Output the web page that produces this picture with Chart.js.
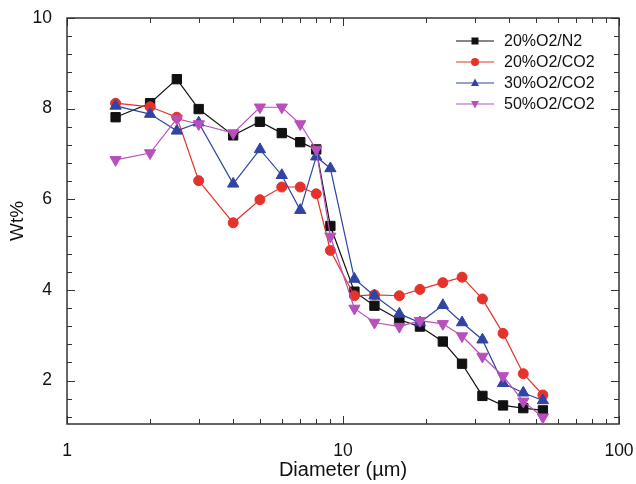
<!DOCTYPE html>
<html>
<head>
<meta charset="utf-8">
<script src="https://cdn.jsdelivr.net/npm/chart.js@4/dist/chart.umd.min.js"></script>
<style>
  html, body { margin: 0; padding: 0; background: #fff; }
  #wrap { width: 636px; height: 484px; position: relative; }
</style>
</head>
<body>
<div id="wrap"><canvas id="chart"></canvas></div>
<script>
// particle diameter (um) for each size bin
const diameters = [1.5, 2, 2.5, 3, 4, 5, 6, 7, 8, 9, 11, 13, 16, 19, 23, 27, 32, 38, 45, 53];

const o2n2_20  = [7.81, 8.12, 8.65, 7.99, 7.41, 7.71, 7.46, 7.26, 7.10, 5.41, 3.96, 3.65, 3.34, 3.19, 2.86, 2.37, 1.66, 1.45, 1.39, 1.34];
const o2co2_20 = [8.12, 8.04, 7.81, 6.41, 5.48, 5.99, 6.27, 6.27, 6.12, 4.87, 3.87, 3.89, 3.87, 4.01, 4.16, 4.28, 3.80, 3.04, 2.15, 1.68];
const o2co2_30 = [8.06, 7.88, 7.51, 7.69, 6.34, 7.10, 6.53, 5.76, 6.94, 6.68, 4.24, 3.87, 3.47, 3.28, 3.66, 3.28, 2.90, 1.94, 1.73, 1.56];
const o2co2_50 = [6.87, 7.02, 7.78, 7.66, 7.46, 8.03, 8.03, 7.66, 7.10, 5.18, 3.59, 3.28, 3.19, 3.32, 3.25, 2.98, 2.53, 2.10, 1.54, 1.19];

const seriesLabels = ["20%O2/N2", "20%O2/CO2", "30%O2/CO2", "50%O2/CO2"];

const xTickValues = [1, 10, 100];
const xMinorValues = [2, 3, 4, 5, 6, 7, 8, 9, 20, 30, 40, 50, 60, 70, 80, 90];
const yTickValues = [2, 4, 6, 8, 10];
const yMinorValues = [1.2, 1.6, 2.4, 2.8, 3.2, 3.6, 4.4, 4.8, 5.2, 5.6, 6.4, 6.8, 7.2, 7.6, 8.4, 8.8, 9.2, 9.6];

const FONT = "Arial, 'Liberation Sans', Helvetica, sans-serif";

function toPoints(values) {
  return values.map((v, i) => ({ x: diameters[i], y: v }));
}

function makeSet(label, values, color, style, radius, rotation, order) {
  return {
    label,
    data: toPoints(values),
    borderColor: color,
    backgroundColor: color,
    borderWidth: 1.2,
    pointStyle: style,
    pointRadius: radius,
    pointRotation: rotation,
    pointBorderWidth: 1,
    pointBorderColor: color,
    pointBackgroundColor: color,
    tension: 0,
    order
  };
}

function marker(ctx, style, x, y, r, rot) {
  ctx.beginPath();
  if (style === "rect") {
    ctx.rect(x - r, y - r, 2 * r, 2 * r);
  } else if (style === "circle") {
    ctx.arc(x, y, r, 0, Math.PI * 2);
  } else {
    const s = rot ? -1 : 1;
    ctx.moveTo(x, y - s * r * 1.1);
    ctx.lineTo(x + r, y + s * r * 0.75);
    ctx.lineTo(x - r, y + s * r * 0.75);
    ctx.closePath();
  }
  ctx.fill();
}

const frameTicks = {
  id: "frameTicks",
  beforeDatasetsDraw(chart) {
    const { ctx, chartArea: a, scales: { x, y } } = chart;
    ctx.save();
    ctx.strokeStyle = "#333";
    ctx.lineWidth = 1;
    ctx.beginPath();
    const tick = (v, len, scale) => {
      if (scale === x) {
        const px = Math.round(x.getPixelForValue(v)) + 0.5;
        ctx.moveTo(px, a.bottom); ctx.lineTo(px, a.bottom - len);
        ctx.moveTo(px, a.top); ctx.lineTo(px, a.top + len);
      } else {
        const py = Math.round(y.getPixelForValue(v)) + 0.5;
        ctx.moveTo(a.left, py); ctx.lineTo(a.left + len, py);
        ctx.moveTo(a.right, py); ctx.lineTo(a.right - len, py);
      }
    };
    xTickValues.forEach(v => tick(v, 8, x));
    xMinorValues.forEach(v => tick(v, 5, x));
    yTickValues.forEach(v => tick(v, 8, y));
    yMinorValues.forEach(v => tick(v, 5, y));
    ctx.stroke();
    ctx.lineWidth = 1.5;
    ctx.strokeStyle = "#333";
    ctx.strokeRect(a.left, a.top, a.right - a.left, a.bottom - a.top);
    ctx.restore();
  }
};

const boxLegend = {
  id: "boxLegend",
  afterDraw(chart) {
    const { ctx } = chart;
    ctx.save();
    ctx.font = "16px " + FONT;
    ctx.textBaseline = "middle";
    ctx.textAlign = "left";
    chart.data.datasets.forEach((ds, i) => {
      const yy = 41 + i * 21;
      ctx.strokeStyle = ds.borderColor;
      ctx.fillStyle = ds.borderColor;
      ctx.lineWidth = 1.2;
      ctx.beginPath();
      ctx.moveTo(456, yy);
      ctx.lineTo(494, yy);
      ctx.stroke();
      const r = ds.pointStyle === "rect" ? 3.5 : 4;
      marker(ctx, ds.pointStyle, 475, yy, r, ds.pointRotation);
      ctx.fillStyle = "#111";
      ctx.fillText(ds.label, 504, yy + 1);
    });
    ctx.restore();
  }
};

const chart = new Chart(document.getElementById("chart").getContext("2d"), {
  type: "line",
  data: {
    datasets: [
      makeSet(seriesLabels[0], o2n2_20, "#111111", "rect", 6.6, 0, 3),
      makeSet(seriesLabels[1], o2co2_20, "#e5322a", "circle", 5, 0, 2),
      makeSet(seriesLabels[2], o2co2_30, "#2f44a3", "triangle", 6.5, 0, 1),
      makeSet(seriesLabels[3], o2co2_50, "#b84fbd", "triangle", 6.5, 180, 0)
    ]
  },
  options: {
    responsive: true,
    maintainAspectRatio: false,
    animation: false,
    devicePixelRatio: 1,
    layout: { padding: { top: 18, right: 17, left: 0, bottom: 0 } },
    plugins: {
      legend: { display: false },
      tooltip: { enabled: false }
    },
    scales: {
      x: {
        type: "logarithmic",
        min: 1,
        max: 100,
        grid: { display: false },
        border: { display: false },
        afterBuildTicks: s => { s.ticks = xTickValues.map(v => ({ value: v })); },
        afterFit: s => { s.height = 60; s.paddingLeft = 0; s.paddingRight = 0; },
        ticks: {
          color: "#111",
          font: { family: FONT, size: 17.5 },
          padding: 9,
          maxRotation: 0,
          callback: v => String(v)
        },
        title: {
          display: true,
          text: "Diameter (\u00b5m)",
          color: "#111",
          font: { family: FONT, size: 20 },
          padding: { top: 0, bottom: 2 }
        }
      },
      y: {
        min: 1.04,
        max: 10,
        grid: { display: false },
        border: { display: false },
        afterBuildTicks: s => { s.ticks = yTickValues.map(v => ({ value: v })); },
        afterFit: s => { s.width = 67; s.paddingTop = 0; s.paddingBottom = 0; },
        ticks: {
          color: "#111",
          font: { family: FONT, size: 17.5 },
          padding: 7,
          callback: v => String(v)
        },
        title: {
          display: true,
          text: "Wt%",
          color: "#111",
          font: { family: FONT, size: 19 },
          padding: { top: 6, bottom: 0 }
        }
      }
    }
  },
  plugins: [frameTicks, boxLegend]
});
</script>
</body>
</html>
